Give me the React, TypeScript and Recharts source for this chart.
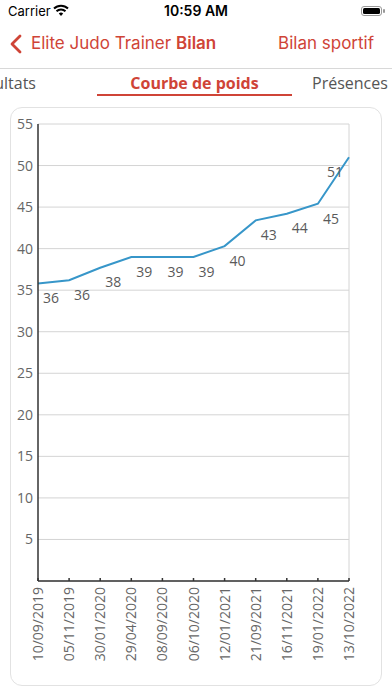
import { CartesianGrid, LabelList, Line, LineChart, ReferenceLine, XAxis, YAxis } from "recharts";

const RED = "#cf4437";
const LINE = "#3796c9";
const TEXT = "#666";
const CHART_FONT = "'Open Sans', sans-serif";
const UI_FONT = "Inter, 'Noto Sans', sans-serif";

const dates = [
  "10/09/2019",
  "05/11/2019",
  "30/01/2020",
  "29/04/2020",
  "08/09/2020",
  "06/10/2020",
  "12/01/2021",
  "21/09/2021",
  "16/11/2021",
  "19/01/2022",
  "13/10/2022",
];
const weights = [35.8, 36.2, 37.7, 39.0, 39.0, 39.0, 40.3, 43.4, 44.2, 45.4, 51.0];
const yTicks = [0, 5, 10, 15, 20, 25, 30, 35, 40, 45, 50, 55];

const data = dates.map((date, i) => ({ date, weight: weights[i] }));

const W = 392;
const H = 696;
const MARGIN = { top: 124, right: 43, bottom: 35, left: 8 };

function DateTick({ x, y, payload }: any) {
  return (
    <g>
      <line x1={x} x2={x} y1={y - 3} y2={y} stroke="#333" strokeWidth={1.5} />
      <text
        x={x - 6}
        y={y + 5}
        transform={`rotate(-90, ${x}, ${y})`}
        textAnchor="end"
        fill={TEXT}
        fontSize={14}
        fontFamily={CHART_FONT}
      >
        {payload.value}
      </text>
    </g>
  );
}

function WeightLabel({ x, y, value }: any) {
  const dx = x + 24 > W - MARGIN.right ? -14 : 13;
  return (
    <text x={x + dx} y={y + 16} textAnchor="middle" dominantBaseline="middle" fill="#5a5a5a" fontSize={14} fontFamily={CHART_FONT}>
      {Math.round(value)}
    </text>
  );
}

function StatusBar() {
  return (
    <div style={{ position: "absolute", left: 0, top: 0, width: W, height: 22, fontFamily: UI_FONT, color: "#000" }}>
      <span style={{ position: "absolute", left: 8, top: 3, fontSize: 13 }}>Carrier</span>
      <svg style={{ position: "absolute", left: 53, top: 4 }} width="16" height="13" viewBox="0 0 16 13">
        <path d="M1 4.5 A10 10 0 0 1 15 4.5" stroke="#000" strokeWidth="2" fill="none" />
        <path d="M3.5 7.2 A6.5 6.5 0 0 1 12.5 7.2" stroke="#000" strokeWidth="2" fill="none" />
        <path d="M8 12 L5.8 9.6 A3 3 0 0 1 10.2 9.6 Z" fill="#000" />
      </svg>
      <span style={{ position: "absolute", left: 0, width: W, top: 2, fontSize: 14, fontWeight: 600, textAlign: "center" }}>10:59 AM</span>
      <div style={{ position: "absolute", left: 361, top: 6, width: 21, height: 10, border: "1px solid #999", borderRadius: 3, padding: 1, boxSizing: "border-box" }}>
        <div style={{ width: "100%", height: "100%", background: "#000", borderRadius: 1.5 }} />
      </div>
      <div style={{ position: "absolute", left: 383, top: 9, width: 2, height: 4, background: "#999", borderRadius: 1 }} />
    </div>
  );
}

function NavBar() {
  return (
    <div style={{ position: "absolute", left: 0, top: 22, width: W, height: 46, fontFamily: UI_FONT, color: RED, borderBottom: "1px solid #d8d8d8" }}>
      <svg style={{ position: "absolute", left: 9, top: 12 }} width="14" height="20" viewBox="0 0 14 20">
        <polyline points="11,2 3,10 11,18" stroke={RED} strokeWidth="2.8" fill="none" strokeLinecap="round" strokeLinejoin="round" />
      </svg>
      <span style={{ position: "absolute", left: 31, top: 11, fontSize: 17 }}>Elite Judo Trainer</span>
      <span style={{ position: "absolute", left: 176, top: 11, fontSize: 17, fontWeight: 600 }}>Bilan</span>
      <span style={{ position: "absolute", right: 18, top: 11, fontSize: 17 }}>Bilan sportif</span>
    </div>
  );
}

function Tabs() {
  return (
    <div style={{ position: "absolute", left: 0, top: 69, width: W, height: 32, fontFamily: CHART_FONT, fontSize: 16 }}>
      <span style={{ position: "absolute", right: W - 36, top: 3, color: "#555", whiteSpace: "nowrap" }}>Résultats</span>
      <span style={{ position: "absolute", left: 97, width: 195, top: 3, textAlign: "center", color: RED, fontWeight: 700 }}>Courbe de poids</span>
      <span style={{ position: "absolute", left: 312, top: 3, color: "#555", whiteSpace: "nowrap" }}>Présences</span>
      <div style={{ position: "absolute", left: 97, top: 25, width: 195, height: 2, background: RED }} />
    </div>
  );
}

export default function App() {
  return (
    <div style={{ position: "absolute", left: 0, top: 0, width: W, height: H, overflow: "hidden", background: "#fff" }}>
      <StatusBar />
      <NavBar />
      <Tabs />
      <div
        style={{
          position: "absolute",
          left: 10,
          top: 107,
          width: 372,
          height: 579,
          border: "1px solid #e2e2e2",
          borderRadius: 12,
          boxSizing: "border-box",
          background: "#fff",
        }}
      />
      <div style={{ position: "absolute", left: 0, top: 0 }}>
        <LineChart width={W} height={H} data={data} margin={MARGIN}>
          <CartesianGrid stroke="#d4d4d4" vertical={false} />
          <XAxis
            dataKey="date"
            interval={0}
            height={80}
            tickSize={0}
            tickMargin={0}
            tick={<DateTick />}
            axisLine={{ stroke: "#333", strokeWidth: 1.5 }}
            tickLine={false}
          />
          <YAxis
            domain={[0, 55]}
            ticks={yTicks}
            tickFormatter={(v: number) => (v === 0 ? "" : String(v))}
            width={30}
            tickSize={0}
            tickMargin={5}
            tick={{ fill: TEXT, fontSize: 14, fontFamily: CHART_FONT }}
            axisLine={{ stroke: "#333", strokeWidth: 1.5 }}
            tickLine={false}
          />
          <ReferenceLine x={dates[dates.length - 1]} stroke="#d4d4d4" />
          <Line type="linear" dataKey="weight" stroke={LINE} strokeWidth={2} dot={false} isAnimationActive={false}>
            <LabelList dataKey="weight" content={<WeightLabel />} />
          </Line>
        </LineChart>
      </div>
    </div>
  );
}
